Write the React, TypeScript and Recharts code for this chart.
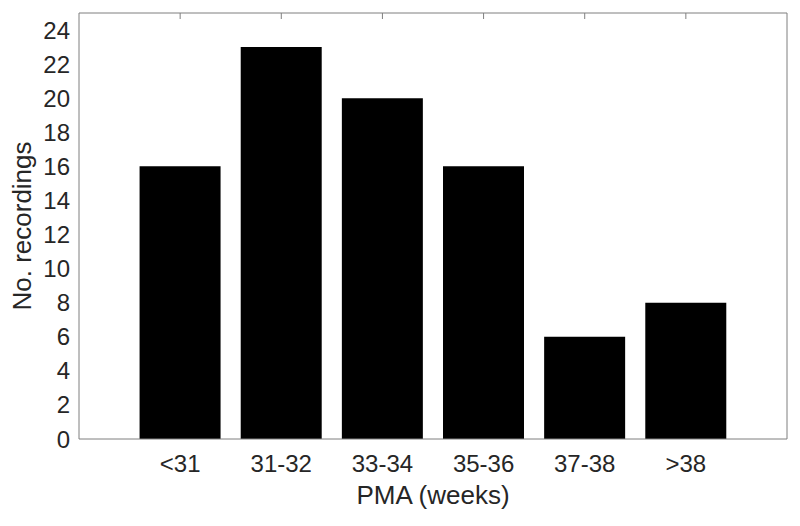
import { BarChart, Bar, XAxis, YAxis } from "recharts";

const CATEGORIES = ["<31", "31-32", "33-34", "35-36", "37-38", ">38"];
const RECORDINGS = [16, 23, 20, 16, 6, 8];
const Y_TICKS = [0, 2, 4, 6, 8, 10, 12, 14, 16, 18, 20, 22, 24];
const X_POS = [1, 2, 3, 4, 5, 6];

const data = CATEGORIES.map((name, i) => ({ name, pos: X_POS[i], count: RECORDINGS[i] }));

const AXIS = "#7f7f7f";
const TEXT = "#262626";
const FONT = "Arial, 'Liberation Sans', Helvetica, sans-serif";

const NoLabel = () => <g />;

export default function App() {
  return (
    <div style={{ position: "absolute", left: 0, top: 0, background: "#fff" }}>
      <BarChart
        width={800}
        height={526}
        data={data}
        margin={{ top: 13, right: 13, bottom: 0, left: 0 }}
        style={{ fontFamily: FONT }}
      >
        <XAxis
          xAxisId="bottom"
          dataKey="pos"
          type="number"
          domain={[0, 7]}
          ticks={X_POS}
          tickFormatter={(v: number) => CATEGORIES[v - 1]}
          height={87}
          tickLine={false}
          tickSize={0}
          tickMargin={16}
          axisLine={{ stroke: AXIS }}
          tick={{ fill: TEXT, fontSize: 24 }}
          label={{
            content: ({ viewBox }: any) => (
              <text
                x={viewBox.x + viewBox.width / 2}
                y={viewBox.y + 56}
                textAnchor="middle"
                dominantBaseline="central"
                fill={TEXT}
                fontSize={26}
              >
                PMA (weeks)
              </text>
            ),
          }}
        />
        <XAxis
          xAxisId="top"
          orientation="top"
          type="number"
          dataKey="pos"
          domain={[0, 7]}
          ticks={X_POS}
          mirror
          tick={NoLabel}
          tickSize={6}
          tickLine={{ stroke: AXIS }}
          axisLine={{ stroke: AXIS }}
        />
        <YAxis
          yAxisId="left"
          domain={[0, 25]}
          ticks={Y_TICKS}
          width={79}
          tickLine={false}
          tickSize={0}
          tickMargin={9}
          axisLine={{ stroke: AXIS }}
          tick={{ fill: TEXT, fontSize: 24 }}
          label={{
            content: ({ viewBox }: any) => {
              const cx = viewBox.x + 22;
              const cy = viewBox.y + viewBox.height / 2;
              return (
                <text
                  x={cx}
                  y={cy}
                  transform={`rotate(-90, ${cx}, ${cy})`}
                  textAnchor="middle"
                  dominantBaseline="central"
                  fill={TEXT}
                  fontSize={26}
                >
                  No. recordings
                </text>
              );
            },
          }}
        />
        <YAxis
          yAxisId="leftTicks"
          orientation="left"
          domain={[0, 25]}
          ticks={Y_TICKS}
          mirror
          tick={NoLabel}
          tickSize={6}
          tickLine={{ stroke: AXIS }}
          axisLine={false}
        />
        <YAxis
          yAxisId="right"
          orientation="right"
          domain={[0, 25]}
          ticks={Y_TICKS}
          mirror
          tick={NoLabel}
          tickSize={6}
          tickLine={{ stroke: AXIS }}
          axisLine={{ stroke: AXIS }}
        />
        <Bar
          xAxisId="bottom"
          yAxisId="left"
          dataKey="count"
          fill="#000"
          barSize={81}
          isAnimationActive={false}
        />
      </BarChart>
    </div>
  );
}
